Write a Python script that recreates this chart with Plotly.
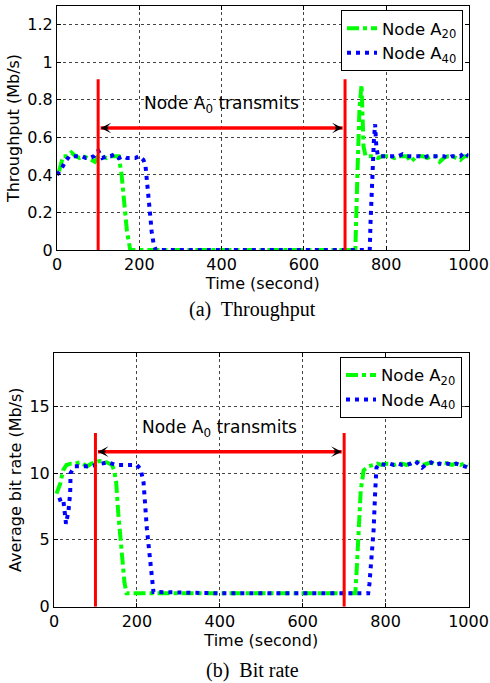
import plotly.graph_objects as go

# ---------------- data: throughput (Mb/s) ----------------
thr_t_a20 = [5, 15, 25, 35, 45, 55, 65, 75, 85, 92, 100, 110, 120, 130, 140, 150, 157, 163, 170, 178,
             300, 500, 725, 730, 735, 740, 745, 750, 760, 770, 780, 790, 800, 810, 820, 830, 840, 850,
             860, 870, 880, 890, 900, 910, 920, 930, 940, 950, 960, 970, 980, 990, 1000]
thr_a20 = [0.42, 0.5, 0.5, 0.52, 0.5, 0.49, 0.5, 0.49, 0.48, 0.47, 0.5, 0.5, 0.49, 0.5, 0.5, 0.5, 0.4, 0.25, 0.1, 0.0,
           0.0, 0.0, 0.0, 0.4, 0.75, 0.88, 0.55, 0.5, 0.5, 0.5, 0.49, 0.5, 0.5, 0.5, 0.49, 0.5, 0.5, 0.5,
           0.47, 0.49, 0.5, 0.5, 0.49, 0.5, 0.5, 0.47, 0.49, 0.5, 0.5, 0.49, 0.48, 0.5, 0.5]

thr_t_a40 = [0, 10, 20, 30, 40, 50, 60, 70, 80, 90, 100, 110, 120, 130, 140, 150, 160, 170, 180, 190, 200,
             210, 215, 220, 225, 230, 235, 240, 400, 600, 760, 762, 765, 768, 770, 773, 776, 780, 790, 800,
             810, 820, 830, 840, 850, 860, 870, 880, 890, 900, 910, 920, 930, 940, 950, 960, 970, 980, 990, 1000]
thr_a40 = [0.4, 0.43, 0.47, 0.5, 0.5, 0.5, 0.5, 0.49, 0.49, 0.5, 0.53, 0.49, 0.5, 0.5, 0.51, 0.49, 0.5, 0.49, 0.49, 0.49, 0.5,
           0.48, 0.45, 0.35, 0.22, 0.1, 0.03, 0.0, 0.0, 0.0, 0.0, 0.15, 0.35, 0.5, 0.58, 0.67, 0.55, 0.5, 0.5, 0.5,
           0.5, 0.5, 0.5, 0.51, 0.5, 0.5, 0.5, 0.5, 0.49, 0.5, 0.5, 0.5, 0.5, 0.5, 0.49, 0.5, 0.5, 0.5, 0.52, 0.5]

# ---------------- data: average bit rate (Mb/s) ----------------
rate_t_a20 = [6, 15, 22, 30, 40, 50, 63, 70, 80, 90, 99, 110, 127, 140, 145, 150, 155, 160, 165, 170, 175,
              400, 600, 727, 731, 737, 740, 747, 759, 770, 780, 790, 800, 810, 820, 830, 840, 850, 860, 870,
              880, 890, 900, 910, 920, 930, 940, 950, 960, 970, 980, 990, 1000]
rate_a20 = [8.46, 9.2, 10.2, 10.6, 10.7, 10.7, 10.8, 10.7, 10.5, 10.7, 10.8, 10.9, 10.8, 10.6, 10.2, 9.3, 7.0, 5.0, 3.2, 1.8, 1.0,
            1.0, 1.0, 1.0, 3.2, 6.7, 8.7, 10.2, 10.5, 10.6, 10.7, 10.6, 10.7, 10.7, 10.6, 10.7, 10.7, 10.6, 10.7, 10.8,
            10.8, 10.6, 10.7, 10.8, 10.6, 10.7, 10.8, 10.7, 10.6, 10.7, 10.6, 10.7, 10.6]

rate_t_a40 = [10, 22, 29, 35, 39, 40, 50, 60, 80, 100, 120, 130, 150, 180, 200, 209, 216, 224, 230, 236, 240,
              400, 600, 758, 761, 767, 771, 775, 778, 785, 800, 810, 820, 830, 840, 850, 860, 872, 888, 900,
              910, 920, 930, 940, 950, 960, 970, 980, 990, 1000]
rate_a40 = [7.96, 8.1, 6.2, 7.2, 8.5, 10.0, 10.5, 10.5, 10.5, 10.6, 10.7, 10.8, 10.6, 10.6, 10.6, 10.3, 9.3, 5.85, 3.8, 2.1, 1.1,
            1.0, 1.0, 1.0, 1.7, 4.2, 5.7, 8.7, 10.4, 10.7, 10.6, 10.7, 10.6, 10.7, 10.6, 10.6, 10.7, 10.9, 10.4, 10.7,
            10.8, 10.6, 10.7, 10.6, 10.7, 10.6, 10.7, 10.6, 10.5, 10.4]

x_ticks = [0, 200, 400, 600, 800, 1000]
thr_ticks = [0, 0.2, 0.4, 0.6, 0.8, 1, 1.2]
rate_ticks = [0, 5, 10, 15]

tx_start, tx_end = 100, 700
names = ["Node A<sub>20</sub>", "Node A<sub>40</sub>"]

W, H = 490, 683
GREEN = "#00ff00"
BLUE = "#0000ff"
RED = "#ff0000"
FONT = "DejaVu Sans"
TICK_SIZE = 16

green_line = dict(color=GREEN, width=4, dash="12px,4px,4px,4px")
blue_line = dict(color=BLUE, width=4, dash="4px,5px")

fig = go.Figure()
fig.add_trace(go.Scatter(x=thr_t_a20, y=thr_a20, mode="lines", name=names[0], line=green_line,
                         xaxis="x", yaxis="y", legend="legend"))
fig.add_trace(go.Scatter(x=thr_t_a40, y=thr_a40, mode="lines", name=names[1], line=blue_line,
                         xaxis="x", yaxis="y", legend="legend"))
fig.add_trace(go.Scatter(x=rate_t_a20, y=rate_a20, mode="lines", name=names[0], line=green_line,
                         xaxis="x2", yaxis="y2", legend="legend2"))
fig.add_trace(go.Scatter(x=rate_t_a40, y=rate_a40, mode="lines", name=names[1], line=blue_line,
                         xaxis="x2", yaxis="y2", legend="legend2"))

def px_x(p):
    return p / W

def px_y(p):
    return 1 - p / H

axis_common = dict(showline=True, linecolor="black", linewidth=1, mirror="ticks", ticks="inside",
                   ticklen=4, tickcolor="black", showgrid=True, gridcolor="#444", gridwidth=0.7,
                   griddash="dot", zeroline=False, automargin=False,
                   tickfont=dict(family=FONT, size=TICK_SIZE, color="black"),
                   title_font=dict(family=FONT, size=TICK_SIZE, color="black"))

legend_common = dict(xanchor="right", yanchor="top", bgcolor="white", bordercolor="black", borderwidth=1,
                     font=dict(family=FONT, size=16.5, color="black"))

fig.update_layout(
    width=W, height=H, margin=dict(l=0, r=0, t=0, b=0),
    paper_bgcolor="white", plot_bgcolor="white", template="none",
    font=dict(family=FONT, size=TICK_SIZE, color="black"),
    xaxis=dict(axis_common, domain=[px_x(57), px_x(468.5)], range=[0, 1000], tickvals=x_ticks,
               anchor="y", title=dict(text="Time (second)", standoff=1)),
    yaxis=dict(axis_common, domain=[px_y(250), px_y(6)], range=[0, 1.3], tickvals=thr_ticks,
               anchor="x", title=dict(text="Throughput (Mb/s)", standoff=3)),
    xaxis2=dict(axis_common, domain=[px_x(54), px_x(468.5)], range=[0, 1000], tickvals=x_ticks,
                anchor="y2", title=dict(text="Time (second)", standoff=1)),
    yaxis2=dict(axis_common, domain=[px_y(606.7), px_y(352.7)], range=[0, 19], tickvals=rate_ticks,
                anchor="x2", title=dict(text="Average bit rate (Mb/s)", standoff=3)),
    legend=dict(legend_common, x=px_x(463), y=px_y(10)),
    legend2=dict(legend_common, x=px_x(462), y=px_y(356.7)),
)

shapes = []
annotations = []
for xr, yr, vtop, arrow_y, text_y in [("x", "y", 0.91, 0.65, 0.775), ("x2", "y2", 13.0, 11.6, 13.3)]:
    for xv in (tx_start, tx_end):
        shapes.append(dict(type="line", xref=xr, yref=yr, x0=xv, x1=xv, y0=0, y1=vtop,
                           line=dict(color=RED, width=3)))
    shapes.append(dict(type="line", xref=xr, yref=yr, x0=tx_start + 6, x1=tx_end - 6, y0=arrow_y, y1=arrow_y,
                       line=dict(color=RED, width=3.5)))
    annotations.append(dict(xref=xr, yref=yr, x=tx_start + 6, y=arrow_y, ax=9, ay=0, text="", showarrow=True,
                            arrowhead=3, arrowsize=1.1, arrowwidth=1.6, arrowcolor="black", standoff=0))
    annotations.append(dict(xref=xr, yref=yr, x=tx_end - 6, y=arrow_y, ax=-9, ay=0, text="", showarrow=True,
                            arrowhead=3, arrowsize=1.1, arrowwidth=1.6, arrowcolor="black", standoff=0))
    annotations.append(dict(xref=xr, yref=yr, x=(tx_start + tx_end) / 2, y=text_y,
                            text="Node A<sub>0</sub> transmits", showarrow=False,
                            font=dict(family=FONT, size=17, color="black")))

annotations.append(dict(xref="paper", yref="paper", x=0.516, y=px_y(310), yanchor="middle",
                        text="(a)  Throughput", showarrow=False,
                        font=dict(family="Liberation Serif", size=20, color="black")))
annotations.append(dict(xref="paper", yref="paper", x=0.516, y=px_y(670), yanchor="middle",
                        text="(b)  Bit rate", showarrow=False,
                        font=dict(family="Liberation Serif", size=20, color="black")))

fig.update_layout(shapes=shapes, annotations=annotations)
fig.write_html("out.html")
